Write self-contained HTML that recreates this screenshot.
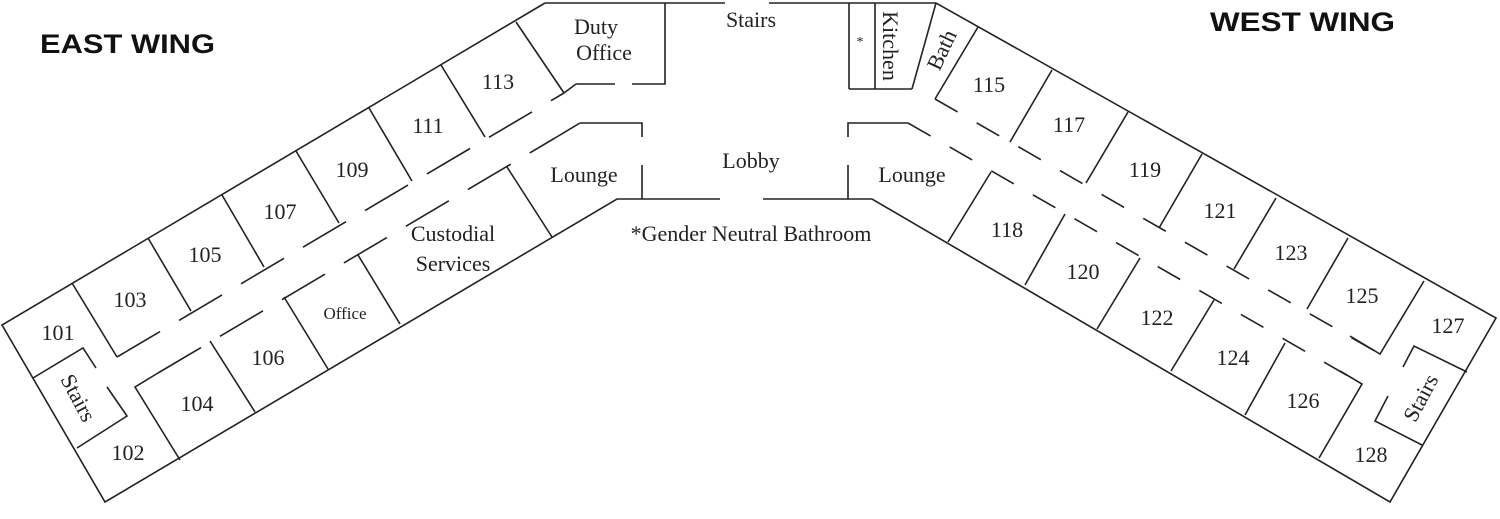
<!DOCTYPE html>
<html><head><meta charset="utf-8"><style>
html,body{margin:0;padding:0;background:#fff;}
svg{display:block;}
text{font-family:"Liberation Serif",serif;font-size:22px;fill:#222;}
.h{font-family:"Liberation Sans",sans-serif;font-weight:bold;font-size:27px;fill:#111;}
</style></head><body>
<svg width="1500" height="519" viewBox="0 0 1500 519" xmlns="http://www.w3.org/2000/svg">
<g stroke="#222" stroke-width="1.6" fill="none">
<polyline points="545,3 2,325 105,502 617,199 720,199"/>
<line x1="545" y1="3" x2="725" y2="3"/>
<polyline points="665,3 665,84 632,84"/>
<line x1="615" y1="84" x2="576" y2="84"/>
<line x1="576" y1="84" x2="564" y2="93"/>
<polyline points="580,123 642,123 642,137"/>
<polyline points="642,165 642,199"/>
<line x1="580" y1="123" x2="555" y2="138"/>
<line x1="117" y1="357" x2="564" y2="93" stroke-dasharray="50,22"/>
<line x1="158" y1="373" x2="555" y2="138" stroke-dasharray="50,22"/>
<line x1="72" y1="283" x2="117" y2="357"/>
<line x1="148" y1="238" x2="191" y2="311"/>
<line x1="222" y1="195" x2="264" y2="267"/>
<line x1="296" y1="151" x2="339" y2="223"/>
<line x1="369" y1="108" x2="412" y2="181"/>
<line x1="441" y1="65" x2="485" y2="137"/>
<line x1="516" y1="22" x2="564" y2="93"/>
<polyline points="158,373 135,387 180,460"/>
<line x1="210" y1="341" x2="255" y2="412"/>
<line x1="284" y1="297" x2="328" y2="369"/>
<line x1="358" y1="255" x2="400" y2="324"/>
<line x1="507" y1="167" x2="552" y2="237"/>
<polyline points="33,378 83,348 96,368"/>
<polyline points="107,387 127,416 77,448"/>
<polyline points="769,3 936,3 1496,318 1390,502 872,199 763,199"/>
<line x1="849" y1="3" x2="849" y2="89"/>
<line x1="875" y1="3" x2="875" y2="89"/>
<line x1="849" y1="89" x2="912" y2="89"/>
<line x1="936" y1="3" x2="912" y2="89"/>
<line x1="978" y1="27" x2="935" y2="99"/>
<polyline points="848,137 848,123 908,123"/>
<line x1="848" y1="165" x2="848" y2="199"/>
<line x1="935" y1="99" x2="1380" y2="354" stroke-dasharray="26,22"/>
<line x1="908" y1="123" x2="1362" y2="384" stroke-dasharray="26,22"/>
<line x1="1052" y1="70" x2="1010" y2="142"/>
<line x1="1128" y1="112" x2="1086" y2="183"/>
<line x1="1202" y1="154" x2="1159" y2="228"/>
<line x1="1276" y1="198" x2="1234" y2="269"/>
<line x1="1348" y1="238" x2="1307" y2="309"/>
<polyline points="1424,281 1380,354 1350,336"/>
<line x1="991" y1="172" x2="948" y2="242"/>
<line x1="1065" y1="214" x2="1025" y2="285"/>
<line x1="1140" y1="258" x2="1097" y2="329"/>
<line x1="1214" y1="300" x2="1171" y2="371"/>
<line x1="1285" y1="343" x2="1245" y2="415"/>
<polyline points="1340,371 1362,384 1319,458"/>
<polyline points="1388,396 1375,421 1422,445"/>
<polyline points="1467,372 1414,346 1403,367"/>
</g>
<text class="h" x="40" y="53" textLength="175" lengthAdjust="spacingAndGlyphs">EAST WING</text>
<text class="h" x="1210" y="31" textLength="185" lengthAdjust="spacingAndGlyphs">WEST WING</text>
<g text-anchor="middle">
<text x="751" y="27">Stairs</text>
<text x="596" y="34">Duty</text>
<text x="604" y="60">Office</text>
<text x="498" y="89">113</text>
<text x="428" y="133">111</text>
<text x="352" y="177">109</text>
<text x="280" y="219">107</text>
<text x="205" y="262">105</text>
<text x="130" y="307">103</text>
<text x="58" y="340">101</text>
<text x="128" y="460">102</text>
<text x="197" y="411">104</text>
<text x="268" y="365">106</text>
<text x="345" y="319" style="font-size:17px">Office</text>
<text x="453" y="241">Custodial</text>
<text x="453" y="271">Services</text>
<text x="584" y="182">Lounge</text>
<text x="751" y="168">Lobby</text>
<text x="912" y="182">Lounge</text>
<text x="751" y="241">*Gender Neutral Bathroom</text>
<text x="860" y="46" style="font-size:14px">*</text>
<text x="989" y="92">115</text>
<text x="1069" y="132">117</text>
<text x="1145" y="177">119</text>
<text x="1220" y="218">121</text>
<text x="1291" y="260">123</text>
<text x="1362" y="303">125</text>
<text x="1448" y="333">127</text>
<text x="1007" y="237">118</text>
<text x="1083" y="279">120</text>
<text x="1157" y="325">122</text>
<text x="1233" y="365">124</text>
<text x="1303" y="408">126</text>
<text x="1371" y="462">128</text>
<text transform="translate(78,398) rotate(62)" dy="7">Stairs</text>
<text transform="translate(1421,398) rotate(-62)" dy="7">Stairs</text>
<text transform="translate(890,46) rotate(90)" dy="7">Kitchen</text>
<text transform="translate(942,50) rotate(-65)" dy="7">Bath</text>
</g>
</svg>
</body></html>
